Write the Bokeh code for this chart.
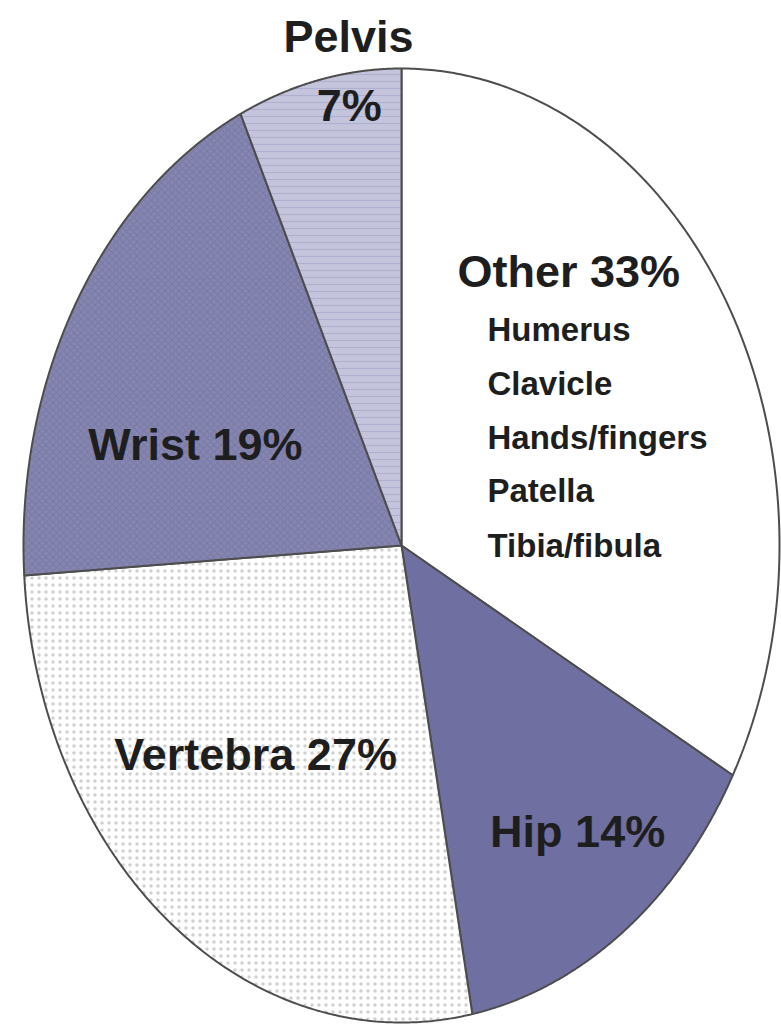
import numpy as np
from bokeh.plotting import figure
from bokeh.models import Range1d, ColumnDataSource
from bokeh.core.properties import value
from bokeh.embed import file_html
from bokeh.resources import INLINE

# ---- data ----
categories = ["Other", "Hip", "Vertebra", "Wrist", "Pelvis"]
percents = [33, 14, 27, 19, 7]
other_items = ["Humerus", "Clavicle", "Hands/fingers", "Patella", "Tibia/fibula"]

# ---- styles ----
fill_colors = ["#ffffff", "#6f6fa1", "#ffffff", "#8585b1", "#c4c4dc"]
hatch_patterns = [" ", " ", "dot", "diagonal_cross", "horizontal_line"]
hatch_colors = ["#ffffff", "#6f6fa1", "#c4c4c4", "#7878a3", "#aaaacb"]

# label layout (normalized pie units: x in rx, y in ry)
label_pos = {
    "Hip": (0.466, -0.60),
    "Vertebra": (-0.386, -0.438),
    "Wrist": (-0.545, 0.212),
}
other_label = (0.148, 0.574)
other_items_x = 0.2275
other_items_y = [0.453, 0.340, 0.226, 0.115, 0.0]
pelvis_name_pos = (-0.140, 1.067)
pelvis_pct_pos = (-0.138, 0.922)

# pixel geometry of the ellipse inside the frame
W, H = 781, 1031
cx_px, cy_px, rx_px, ry_px = 401, 545, 378, 477

x_range = Range1d(-cx_px / rx_px, (W - cx_px) / rx_px)
y_range = Range1d(-(H - cy_px) / ry_px, cy_px / ry_px)

p = figure(width=W, height=H, x_range=x_range, y_range=y_range,
           output_backend="svg", toolbar_location=None, min_border=0)
p.axis.visible = False
p.grid.visible = False
p.outline_line_color = None
p.background_fill_color = "white"
p.border_fill_color = "white"

# build slices from percentages (clockwise from 12 o'clock)
frac = np.array(percents, dtype=float) / sum(percents)
ends = np.cumsum(frac) * 2 * np.pi
starts = ends - frac * 2 * np.pi
xs, ys = [], []
for a0, a1 in zip(starts, ends):
    t = np.linspace(a0, a1, 240)
    xs.append([0.0] + list(np.sin(t)) + [0.0])
    ys.append([0.0] + list(np.cos(t)) + [0.0])

src = ColumnDataSource(dict(xs=xs, ys=ys, fill=fill_colors,
                            hatch=hatch_patterns, hcol=hatch_colors))
p.patches("xs", "ys", source=src, fill_color="fill", hatch_pattern="hatch",
          hatch_color="hcol", hatch_scale=7, hatch_weight=1.2, hatch_alpha=0.8,
          line_color="#4d4d4d", line_width=2)

font = value("Liberation Sans")
tcol = "#1e1e1e"

# main labels
lx = [label_pos[c][0] for c in ["Hip", "Vertebra", "Wrist"]]
ly = [label_pos[c][1] for c in ["Hip", "Vertebra", "Wrist"]]
lt = [f"{c} {percents[categories.index(c)]}%" for c in ["Hip", "Vertebra", "Wrist"]]
p.text(x=lx, y=ly, text=lt, text_font=font, text_font_style="bold",
       text_font_size="45px", text_align="center", text_baseline="middle",
       text_color=tcol)

# Other label + items
p.text(x=[other_label[0]], y=[other_label[1]],
       text=[f"Other {percents[0]}%"], text_font=font, text_font_style="bold",
       text_font_size="45px", text_align="left", text_baseline="middle",
       text_color=tcol)
p.text(x=[other_items_x] * len(other_items), y=other_items_y, text=other_items,
       text_font=font, text_font_style="bold", text_font_size="33px",
       text_align="left", text_baseline="middle", text_color=tcol)

# Pelvis label (two lines)
p.text(x=[pelvis_name_pos[0]], y=[pelvis_name_pos[1]], text=["Pelvis"],
       text_font=font, text_font_style="bold", text_font_size="45px",
       text_align="center", text_baseline="middle", text_color=tcol)
p.text(x=[pelvis_pct_pos[0]], y=[pelvis_pct_pos[1]], text=[f"{percents[4]}%"],
       text_font=font, text_font_style="bold", text_font_size="45px",
       text_align="center", text_baseline="middle", text_color=tcol)

open("out.html", "w").write(file_html(p, INLINE))
